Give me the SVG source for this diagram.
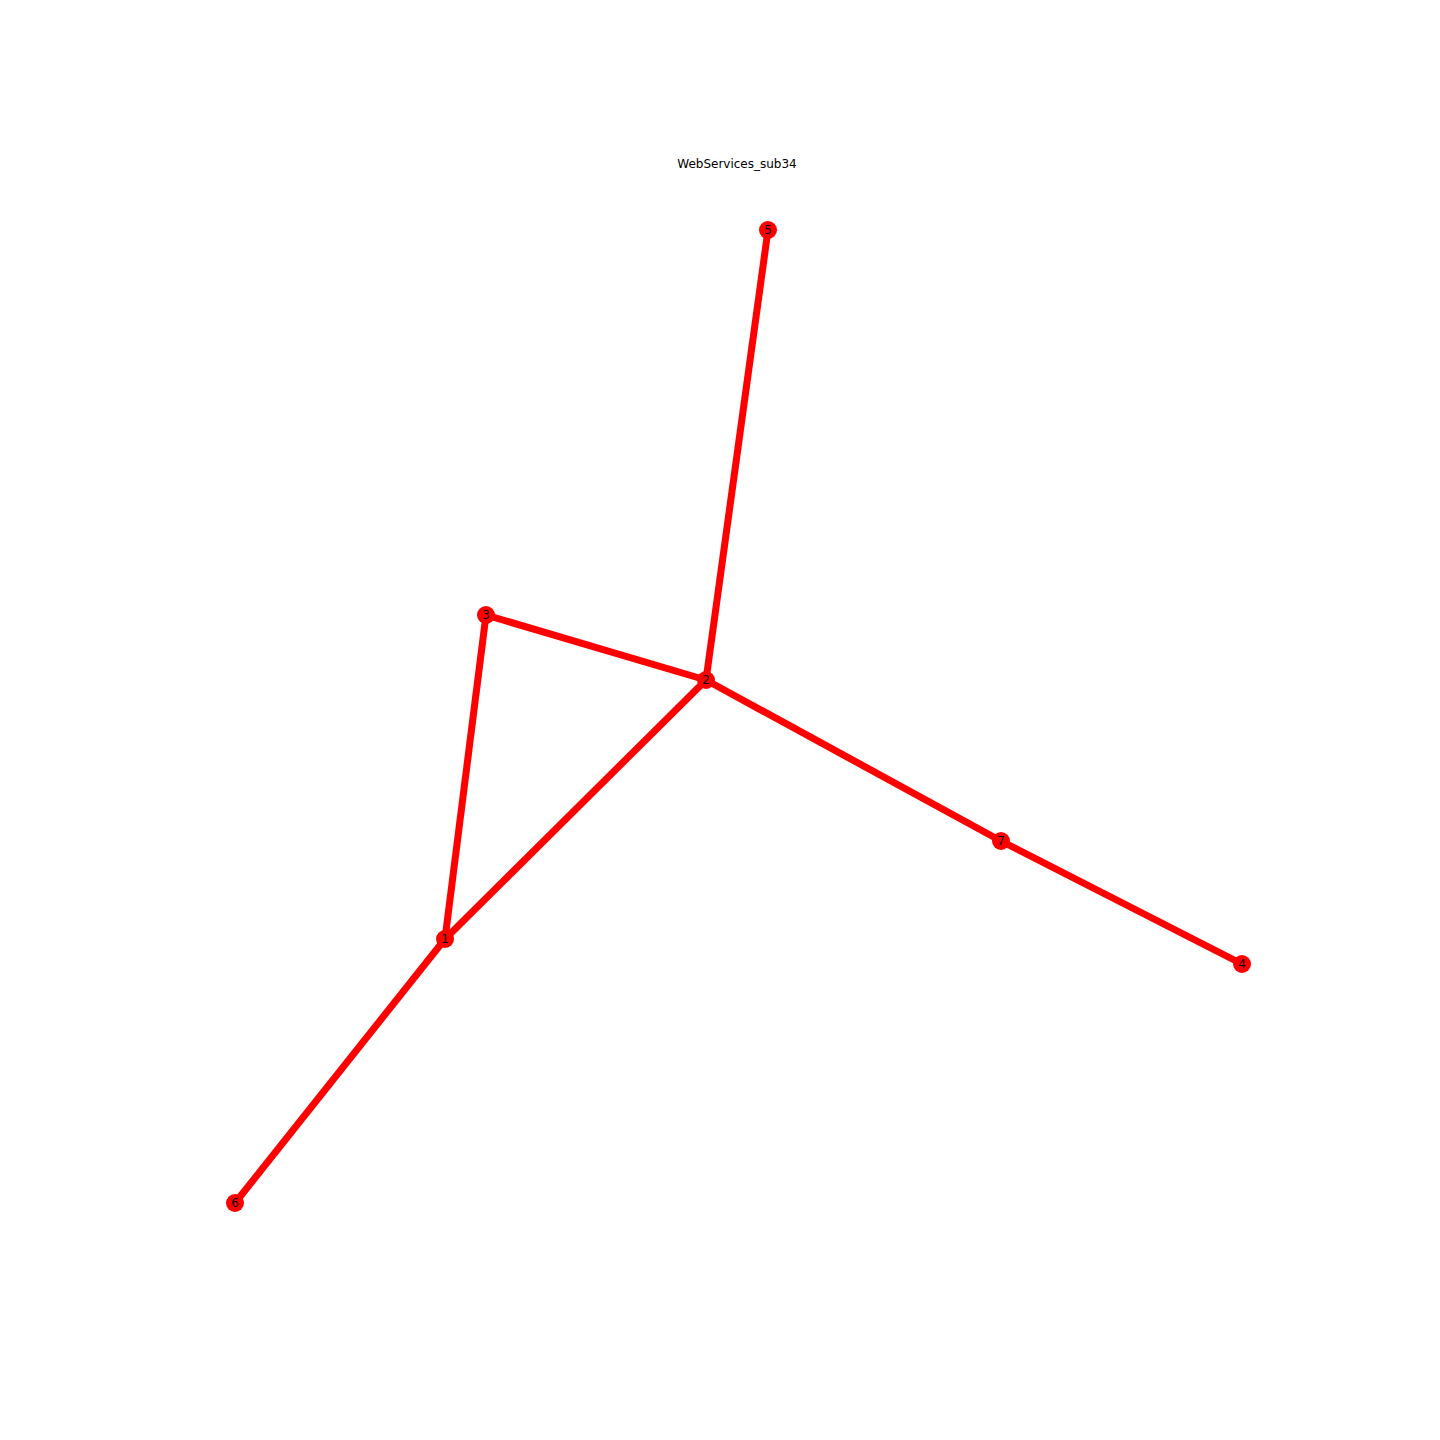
<svg xmlns="http://www.w3.org/2000/svg" width="1440" height="1440" viewBox="0 0 1440 1440">
<style>
.edge{stroke:#ff0000;stroke-width:7;stroke-linecap:butt;fill:none}
.node circle{fill:#ff0000;stroke:none}
.node text{font-family:"DejaVu Sans",sans-serif;font-size:12px;fill:#000;text-anchor:middle;dominant-baseline:central}
.title{font-family:"DejaVu Sans",sans-serif;font-size:12px;fill:#000;text-anchor:middle}
</style>
<rect width="1440" height="1440" fill="#ffffff"/>
<text class="title" x="737" y="168">WebServices_sub34</text>
<g id="edges">
<line class="edge" x1="706" y1="680" x2="768" y2="230"/>
<line class="edge" x1="706" y1="680" x2="486" y2="615"/>
<line class="edge" x1="706" y1="680" x2="1001" y2="841"/>
<line class="edge" x1="706" y1="680" x2="445" y2="939"/>
<line class="edge" x1="486" y1="615" x2="445" y2="939"/>
<line class="edge" x1="1001" y1="841" x2="1242" y2="964"/>
<line class="edge" x1="445" y1="939" x2="235" y2="1203"/>
</g>
<g id="node1" class="node"><circle cx="445" cy="939" r="9"/><text x="445" y="939">1</text></g>
<g id="node2" class="node"><circle cx="706" cy="680" r="9"/><text x="706" y="680">2</text></g>
<g id="node3" class="node"><circle cx="486" cy="615" r="9"/><text x="486" y="615">3</text></g>
<g id="node4" class="node"><circle cx="1242" cy="964" r="9"/><text x="1242" y="964">4</text></g>
<g id="node5" class="node"><circle cx="768" cy="230" r="9"/><text x="768" y="230">5</text></g>
<g id="node6" class="node"><circle cx="235" cy="1203" r="9"/><text x="235" y="1203">6</text></g>
<g id="node7" class="node"><circle cx="1001" cy="841" r="9"/><text x="1001" y="841">7</text></g>
</svg>
